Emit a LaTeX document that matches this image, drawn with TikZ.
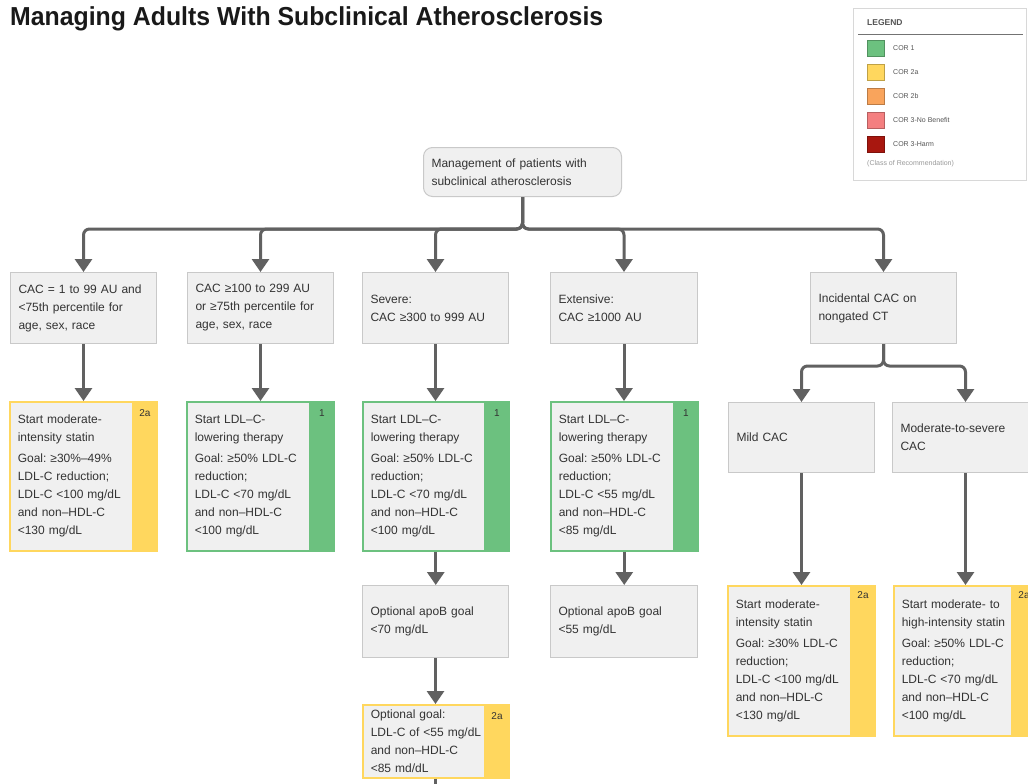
\documentclass[tikz,border=0pt]{standalone}
\usepackage{fontspec}
\setmainfont{Liberation Sans}
\newfontfamily\titlefont{Liberation Sans}[FakeStretch=0.955]
\usetikzlibrary{arrows.meta}
\definecolor{boxfill}{HTML}{F0F0F0}
\definecolor{boxline}{HTML}{C9C9C9}
\definecolor{connc}{HTML}{616161}
\definecolor{txt}{HTML}{333333}
\definecolor{corA}{HTML}{6CC17F}
\definecolor{corB}{HTML}{FFD75E}
\definecolor{corC}{HTML}{F9A45C}
\definecolor{corD}{HTML}{F47F80}
\definecolor{corE}{HTML}{A8170F}
\definecolor{legline}{HTML}{D8D8D8}
\definecolor{legtxt}{HTML}{555555}
\frenchspacing
\begin{document}
\begin{tikzpicture}[x=1pt,y=-1pt,
  font=\fontsize{12}{18}\selectfont,
  gbox/.style={draw=boxline, fill=boxfill, line width=1pt, text=txt, align=left,
    inner xsep=8pt, inner ysep=4pt, anchor=north west, text width=130pt, minimum height=71pt},
  tbox/.style={gbox, draw=#1, line width=1.5pt, text width=131pt, minimum height=149pt,
    path picture={\fill[#1] ([xshift=-25pt]path picture bounding box.north east) rectangle (path picture bounding box.south east);}},
  corlbl/.style={font=\fontsize{10}{12}\selectfont, text=txt, inner sep=0pt},
  conn/.style={draw=connc, line width=3pt, -{Triangle[width=17pt,length=13pt]}, rounded corners=6pt},
  connline/.style={draw=connc, line width=3pt},
  swatch/.style={minimum width=17pt, minimum height=16pt, inner sep=0pt, line width=0.8pt},
  legitem/.style={anchor=west, inner sep=0pt, text=legtxt, font=\fontsize{7}{8}\selectfont}
]
\useasboundingbox (0,0) rectangle (1028,784);
\fill[white] (0,0) rectangle (1028,784);

% title
\node[anchor=west, inner sep=0pt, font=\titlefont\bfseries\fontsize{26}{30}\selectfont, text=black!90] (title) at (10,19) {Managing Adults With Subclinical Atherosclerosis};

% legend
\node[draw=legline, fill=white, line width=0.8pt, minimum width=173pt, minimum height=172pt, anchor=north west, inner sep=0pt] (legend) at (853,8) {};
\node[anchor=west, inner sep=0pt, font=\bfseries\fontsize{8.5}{10}\selectfont, text=legtxt] (legtitle) at (867,23) {LEGEND};
\draw[draw=black!55, line width=0.8pt] ([xshift=5pt]legend.north west |- 0,34) -- ([xshift=-4pt]legend.north east |- 0,34);
\node[swatch, fill=corA, draw=corA!75!black] (s1) at (875.5,48) {};
\node[swatch, fill=corB, draw=corB!75!black] (s2) at (875.5,72) {};
\node[swatch, fill=corC, draw=corC!75!black] (s3) at (875.5,96) {};
\node[swatch, fill=corD, draw=corD!75!black] (s4) at (875.5,120) {};
\node[swatch, fill=corE, draw=corE!75!black] (s5) at (875.5,144) {};
\node[legitem] (l1) at (893,48) {COR 1};
\node[legitem] (l2) at (893,72) {COR 2a};
\node[legitem] (l3) at (893,96) {COR 2b};
\node[legitem] (l4) at (893,120) {COR 3-No Benefit};
\node[legitem] (l5) at (893,144) {COR 3-Harm};
\node[legitem, text=black!40] (l6) at (867,164) {(Class of Recommendation)};

% top node
\node[gbox, rounded corners=9pt, text width=182pt, minimum height=49pt] (top) at (423,147)
  {Management of patients with\\subclinical atherosclerosis};

% row 1
\node[gbox] (c1) at (10,272) {CAC = 1 to 99 AU and\\<75th percentile for\\age, sex, race};
\node[gbox] (c2) at (187,272) {CAC ≥100 to 299 AU\\or ≥75th percentile for\\age, sex, race};
\node[gbox] (c3) at (362,272) {Severe:\\CAC ≥300 to 999 AU};
\node[gbox, text width=131pt] (c4) at (550,272) {Extensive:\\CAC ≥1000 AU};
\node[gbox] (c5) at (810,272) {Incidental CAC on\\nongated CT};

% row 2 treatments
\node[tbox=corB] (t1) at (9,401) {Start moderate-\\intensity statin\\[3pt]Goal: ≥30\%–49\%\\LDL-C reduction;\\LDL-C <100 mg/dL\\and non–HDL-C\\<130 mg/dL};
\node[tbox=corA] (t2) at (186,401) {Start LDL–C-\\lowering therapy\\[3pt]Goal: ≥50\% LDL-C\\reduction;\\LDL-C <70 mg/dL\\and non–HDL-C\\<100 mg/dL};
\node[tbox=corA, text width=130pt] (t3) at (362,401) {Start LDL–C-\\lowering therapy\\[3pt]Goal: ≥50\% LDL-C\\reduction;\\LDL-C <70 mg/dL\\and non–HDL-C\\<100 mg/dL};
\node[tbox=corA] (t4) at (550,401) {Start LDL–C-\\lowering therapy\\[3pt]Goal: ≥50\% LDL-C\\reduction;\\LDL-C <55 mg/dL\\and non–HDL-C\\<85 mg/dL};
\node[corlbl] (t1l) at ([xshift=-12.5pt,yshift=-12pt]t1.north east) {2a};
\node[corlbl] (t2l) at ([xshift=-12.5pt,yshift=-12pt]t2.north east) {1};
\node[corlbl] (t3l) at ([xshift=-12.5pt,yshift=-12pt]t3.north east) {1};
\node[corlbl] (t4l) at ([xshift=-12.5pt,yshift=-12pt]t4.north east) {1};

% apoB and optional goal
\node[gbox, minimum height=72pt] (o3) at (362,585) {Optional apoB goal\\<70 mg/dL};
\node[gbox, minimum height=72pt, text width=131pt] (o4) at (550,585) {Optional apoB goal\\<55 mg/dL};
\node[tbox=corB, text width=130pt, minimum height=73pt] (g3) at (362,704) {Optional goal:\\LDL-C of <55 mg/dL\\and non–HDL-C\\<85 md/dL};
\node[corlbl] (g3l) at ([xshift=-12.5pt,yshift=-12pt]g3.north east) {2a};

% incidental branch
\node[gbox, minimum height=70pt] (m1) at (728,402) {Mild CAC};
\node[gbox, minimum height=70pt] (m2) at (892,402) {Moderate-to-severe\\CAC};
\node[tbox=corB, minimum height=150pt] (mt1) at (727,585) {Start moderate-\\intensity statin\\[3pt]Goal: ≥30\% LDL-C\\reduction;\\LDL-C <100 mg/dL\\and non–HDL-C\\<130 mg/dL};
\node[tbox=corB, minimum height=150pt, text width=126pt] (mt2) at (893,585) {Start moderate- to\\high-intensity statin\\[3pt]Goal: ≥50\% LDL-C\\reduction;\\LDL-C <70 mg/dL\\and non–HDL-C\\<100 mg/dL};
\node[corlbl] (mt1l) at ([xshift=-12.5pt,yshift=-10pt]mt1.north east) {2a};
\node[corlbl] (mt2l) at ([xshift=-12.5pt,yshift=-10pt]mt2.north east) {2a};

% connectors
\foreach \c in {c1,c2,c3,c4,c5}
  \draw[conn] (top.south) -- ++(0,32) -| (\c.north);
\draw[conn] (c1.south) -- (c1.south |- t1.north);
\draw[conn] (c2.south) -- (c2.south |- t2.north);
\draw[conn] (c3.south) -- (c3.south |- t3.north);
\draw[conn] (c4.south) -- (c4.south |- t4.north);
\draw[conn] (t3.south) -- (t3.south |- o3.north);
\draw[conn] (t4.south) -- (t4.south |- o4.north);
\draw[conn] (o3.south) -- (o3.south |- g3.north);
\coordinate (gend) at (g3.south |- 0,790);
\draw[connline] (g3.south) -- (gend);
\draw[conn] (c5.south) -- ++(0,22) -| (m1.north);
\draw[conn] (c5.south) -- ++(0,22) -| (m2.north);
\draw[conn] (m1.south) -- (m1.south |- mt1.north);
\draw[conn] (m2.south) -- (m2.south |- mt2.north);
\end{tikzpicture}
\end{document}
